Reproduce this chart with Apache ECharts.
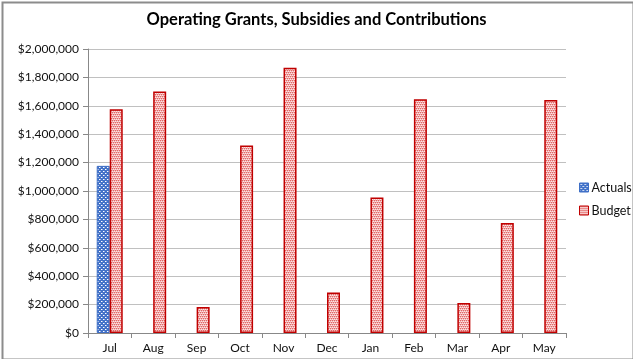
<!DOCTYPE html>
<html>
<head>
<meta charset="utf-8">
<script src="https://cdn.jsdelivr.net/npm/echarts@6/dist/echarts.min.js"></script>
<style>
html,body{margin:0;padding:0;background:#fff;}
#chart{width:633px;height:359px;}
</style>
</head>
<body>
<div id="chart"></div>
<script>
const months = ['Jul','Aug','Sep','Oct','Nov','Dec','Jan','Feb','Mar','Apr','May'];
const actuals = [1177000, null, null, null, null, null, null, null, null, null, null];
const budget = [1576000, 1700000, 183000, 1320000, 1868000, 286000, 954000, 1646000, 211000, 774000, 1641000];
const yTicks = [0, 200000, 400000, 600000, 800000, 1000000, 1200000, 1400000, 1600000, 1800000, 2000000];

function makePattern(kind) {
  const c = document.createElement('canvas');
  c.width = 4; c.height = 4;
  const g = c.getContext('2d');
  if (kind === 'blue') {
    g.fillStyle = '#4272C8';
    g.fillRect(0, 0, 4, 4);
    g.fillStyle = '#ffffff';
    g.fillRect(1, 1, 1, 1);
    g.fillRect(3, 3, 1, 1);
    g.fillStyle = '#9db6e6';
    g.fillRect(2, 1, 1, 1);
    g.fillRect(0, 3, 1, 1);
  } else {
    g.fillStyle = '#F2B0B0';
    g.fillRect(0, 0, 4, 4);
    g.fillStyle = '#E06666';
    [[0,0],[2,0],[1,2],[3,2]].forEach(p => g.fillRect(p[0], p[1], 1, 1));
    g.fillStyle = '#fbe4e4';
    [[1,1],[3,1],[0,3],[2,3]].forEach(p => g.fillRect(p[0], p[1], 1, 1));
  }
  return c;
}
const bluePat = { image: makePattern('blue'), repeat: 'repeat' };
const redPat = { image: makePattern('red'), repeat: 'repeat' };

function fmt(v) {
  return '$' + v.toLocaleString('en-US');
}

const chart = echarts.init(document.getElementById('chart'), null, { renderer: 'canvas' });
const font = 'Lato, "Open Sans", sans-serif';
chart.setOption({
  animation: false,
  textStyle: { fontFamily: font },
  title: {
    text: 'Operating Grants, Subsidies and Contributions',
    left: 'center', top: 6,
    textStyle: { fontFamily: font, fontSize: 16.5, fontWeight: 'bold', color: '#000' }
  },
  graphic: [{
    type: 'rect', left: 0, top: 0,
    shape: { x: 1, y: 1, width: 631, height: 357 },
    style: { fill: null, stroke: '#8c8c8c', lineWidth: 2 },
    silent: true
  }],
  legend: {
    orient: 'vertical', left: 574, top: 176,
    itemWidth: 9, itemHeight: 9, itemGap: 10,
    textStyle: { fontFamily: font, fontSize: 12.5, color: '#111', padding: [0,0,0,-2] },
    data: [
      { name: 'Actuals', icon: 'rect', itemStyle: { color: bluePat, borderColor: '#3F6FC6', borderWidth: 1 } },
      { name: 'Budget', icon: 'rect', itemStyle: { color: redPat, borderColor: '#C00000', borderWidth: 1 } }
    ]
  },
  grid: { left: 88, right: 67, top: 49, bottom: 26, containLabel: false },
  xAxis: {
    type: 'category', data: months,
    axisLine: { lineStyle: { color: '#888' } },
    axisTick: { show: true, alignWithLabel: false, length: 5, lineStyle: { color: '#888' } },
    axisLabel: { color: '#111', fontSize: 12, margin: 9, fontFamily: font }
  },
  yAxis: {
    type: 'value', min: 0, max: 2000000, interval: 200000,
    axisLine: { show: true, lineStyle: { color: '#888' } },
    axisTick: { show: true, length: 5, lineStyle: { color: '#888' } },
    splitLine: { lineStyle: { color: '#c0c0c0', width: 1 } },
    axisLabel: { color: '#111', fontSize: 12, margin: 9, fontFamily: font,
      formatter: v => yTicks.includes(v) ? fmt(v) : '' }
  },
  series: [
    { name: 'Actuals', type: 'bar', data: actuals, barWidth: 13, barGap: '0%',
      itemStyle: { color: bluePat, borderColor: '#3F6FC6', borderWidth: 1 } },
    { name: 'Budget', type: 'bar', data: budget, barWidth: 13,
      itemStyle: { color: redPat, borderColor: '#C00000', borderWidth: 1.5 } }
  ]
});
</script>
</body>
</html>
